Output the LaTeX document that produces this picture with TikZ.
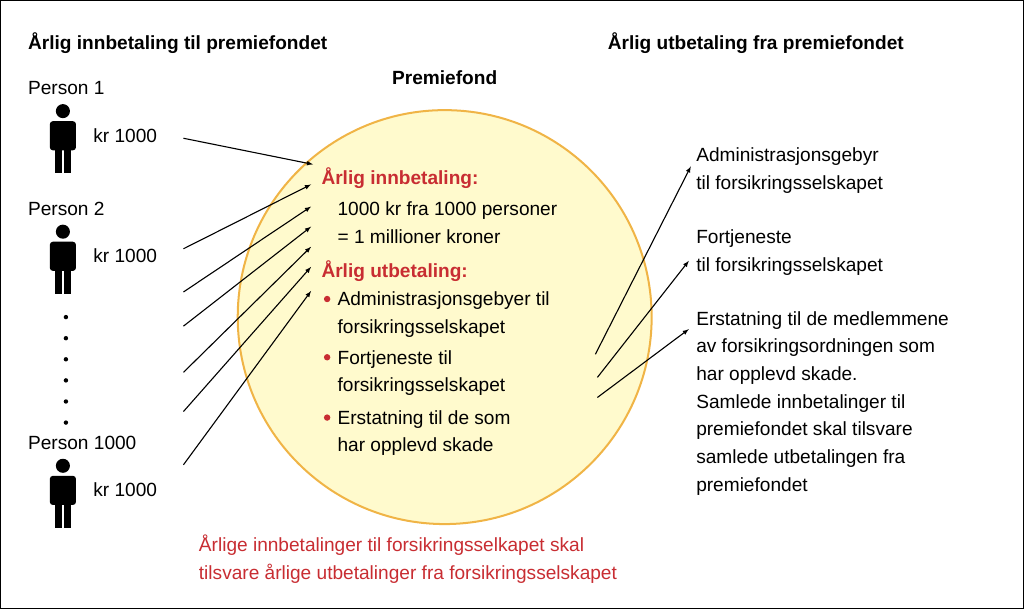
\documentclass[tikz,border=0pt]{standalone}
\usepackage{fontspec}
\setmainfont{Liberation Sans}
\usepackage{tikz}
\definecolor{fondfill}{RGB}{255,250,205}
\definecolor{fondline}{RGB}{240,180,70}
\definecolor{redtext}{RGB}{200,45,50}

\begin{document}
\begin{tikzpicture}[x=1pt, y=-1pt, thick]
  \tikzset{txt/.style={anchor=west, inner sep=0pt, font=\fontsize{19}{23}\selectfont},
           head/.style={txt, font=\fontsize{19}{23}\selectfont\bfseries},
           redhead/.style={head, text=redtext},
           arr/.style={->, >=latex, line width=1.1pt}}

  \draw [line width=1.2pt] (3,3) rectangle (1021,608);

  \node [head] (title-in) at (30, 45) {Årlig innbetaling til premiefondet};
  \node [head] (title-out) at (607, 45) {Årlig utbetaling fra premiefondet};
  \node [head, anchor=center] (fond-title) at (445, 80) {Premiefond};

  \node [circle, draw=fondline, fill=fondfill, line width=2pt,
         minimum size=412pt] (fond) at (445, 318) {};

  % personer
  \foreach \n/\y in {1/90, 2/210, 1000/443} {
    \node [txt] (p-\n) at (30, \y) {Person \n};
    \fill (65, \y+23) circle (7);
    \fill [rounded corners=3pt] (52, \y+33) rectangle (78, \y+62);
    \fill (57, \y+55) rectangle (64, \y+85);
    \fill (66, \y+55) rectangle (73, \y+85);
    \node [txt] (kr-\n) at (95, \y+47) {kr 1000};
  }
  \foreach \y in {318, 339, ..., 424} {
    \fill (68, \y) circle (2.2);
  }

  % tekst i fondet
  \node [redhead] (inn) at (322, 180) {Årlig innbetaling:};
  \node [txt] (inn-1) at (338, 212) {1000 kr fra 1000 personer};
  \node [txt] (inn-2) at (338, 238) {= 1 millioner kroner};
  \node [redhead] (ut) at (322, 272) {Årlig utbetaling:};
  \foreach \i/\y/\a/\b in {1/302/Administrasjonsgebyer til/forsikringsselskapet,
                           2/360/Fortjeneste til/forsikringsselskapet,
                           3/420/Erstatning til de som/har opplevd skade} {
    \fill [redtext] (328, \y-2) circle (3.2);
    \node [txt] (ut-\i) at (338, \y) {\a};
    \node [txt] (ut-\i b) at (338, \y+27) {\b};
  }

  % tekst til høyre
  \node [txt] (r-1) at (695, 158) {Administrasjonsgebyr};
  \node [txt] (r-1b) at (695, 186) {til forsikringsselskapet};
  \node [txt] (r-2) at (695, 240) {Fortjeneste};
  \node [txt] (r-2b) at (695, 268) {til forsikringsselskapet};
  \node [txt, align=left, anchor=north west, font=\fontsize{19}{27.5}\selectfont]
        (r-3) at (695, 312) {Erstatning til de medlemmene\\av forsikringsordningen som\\har opplevd skade.\\Samlede innbetalinger til\\premiefondet skal tilsvare\\samlede utbetalingen fra\\premiefondet};

  % piler inn
  \coordinate (s-0) at (185, 140);
  \coordinate (e-0) at (314, 166);
  \draw [arr] (s-0) -- (e-0);
  \foreach \i/\ys/\ye in {1/250/186, 2/293/208, 3/327/228, 4/373/248, 5/412/268, 6/465/292} {
    \coordinate (s-\i) at (185, \ys);
    \coordinate (e-\i) at (312, \ye);
    \draw [arr] (s-\i) -- (e-\i);
  }

  % piler ut
  \coordinate (o-1) at (595, 355);
  \coordinate (o-2) at (597, 378);
  \coordinate (o-3) at (597, 398);
  \coordinate (t-1) at (690, 168);
  \coordinate (t-2) at (688, 262);
  \coordinate (t-3) at (688, 330);
  \foreach \i in {1, 2, 3} {
    \draw [arr] (o-\i) -- (t-\i);
  }

  \node [txt, text=redtext] (note-1) at (200, 545) {Årlige innbetalinger til forsikringsselkapet skal};
  \node [txt, text=redtext] (note-2) at (200, 573) {tilsvare årlige utbetalinger fra forsikringsselskapet};
\end{tikzpicture}
\end{document}
